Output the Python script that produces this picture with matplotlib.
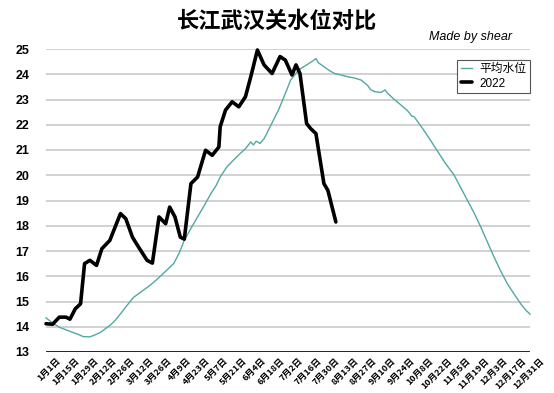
import matplotlib
matplotlib.use("Agg")
import matplotlib.pyplot as plt
import matplotlib.transforms as mtransforms

plt.rcParams['font.family'] = ['Liberation Sans', 'Noto Sans CJK SC', 'DejaVu Sans']

# x tick labels every 14 days
tick_days = list(range(0, 365, 14))
tick_labels = ["1月1日", "1月15日", "1月29日", "2月12日", "2月26日", "3月12日", "3月26日",
               "4月9日", "4月23日", "5月7日", "5月21日", "6月4日", "6月18日", "7月2日",
               "7月16日", "7月30日", "8月13日", "8月27日", "9月10日", "9月24日", "10月8日",
               "10月22日", "11月5日", "11月19日", "12月3日", "12月17日", "12月31日"]

# average water level (day of year, metres)
avg_days = [0, 5, 10, 15, 20, 25, 28, 33, 37, 41, 48, 52, 56, 61, 66, 72, 78, 84, 88, 92,
            96, 100, 104, 109, 114, 119, 124, 128, 131, 136, 141, 146, 150, 154, 156, 158,
            161, 164, 166, 171, 175, 179, 184, 190, 196, 201, 203, 205, 209, 213, 217, 222,
            227, 232, 237, 242, 244, 247, 252, 255, 257, 262, 267, 272, 275, 277, 284, 289,
            294, 300, 307, 312, 317, 322, 327, 332, 337, 342, 347, 352, 357, 361, 364]
avg_vals = [14.35, 14.15, 13.98, 13.88, 13.78, 13.68, 13.61, 13.6, 13.68, 13.78, 14.05, 14.25,
            14.51, 14.85, 15.17, 15.4, 15.63, 15.9, 16.1, 16.3, 16.5, 16.9, 17.42, 17.9, 18.35,
            18.8, 19.27, 19.6, 19.93, 20.33, 20.6, 20.86, 21.05, 21.32, 21.2, 21.35, 21.26,
            21.45, 21.65, 22.18, 22.6, 23.11, 23.77, 24.17, 24.37, 24.54, 24.62, 24.45, 24.3,
            24.15, 24.03, 23.97, 23.9, 23.85, 23.77, 23.55, 23.4, 23.31, 23.28, 23.38, 23.24,
            23.0, 22.78, 22.55, 22.35, 22.31, 21.79, 21.4, 20.99, 20.5, 20.0, 19.5, 19.0, 18.5,
            17.95, 17.35, 16.76, 16.2, 15.7, 15.3, 14.91, 14.65, 14.5]

# 2022 water level
y22_days = [0, 5, 10, 15, 18, 22, 26, 29, 33, 38, 42, 48, 56, 60, 65, 68, 76, 80, 85, 90,
            93, 97, 101, 104, 109, 114, 120, 125, 130, 131, 135, 140, 145, 150, 154, 159,
            164, 170, 176, 180, 185, 188, 191, 196, 199, 203, 209, 212, 218]
y22_vals = [14.12, 14.1, 14.38, 14.38, 14.3, 14.71, 14.91, 16.5, 16.63, 16.43, 17.09, 17.42,
            18.48, 18.28, 17.55, 17.29, 16.63, 16.52, 18.35, 18.08, 18.74, 18.35, 17.55, 17.47,
            19.67, 19.93, 20.99, 20.79, 21.12, 21.92, 22.58, 22.91, 22.71, 23.11, 23.9, 24.96,
            24.37, 24.03, 24.7, 24.56, 23.97, 24.37, 24.03, 22.05, 21.85, 21.65, 19.67, 19.4,
            18.15]

fig = plt.figure(figsize=(5.54, 3.93), dpi=100)
ax = fig.add_axes([46 / 554, 1 - 352 / 393, 484 / 554, 303 / 393])

ax.plot(avg_days, avg_vals, color="#52a8a2", lw=1.0, label="平均水位", clip_on=False, zorder=3)
ax.plot(y22_days, y22_vals, color="black", lw=2.6, label="2022", solid_joinstyle="round",
        solid_capstyle="round", clip_on=False, zorder=4)

ax.set_xlim(0, 364)
ax.set_ylim(13, 25)
ax.set_yticks(range(13, 26))
ax.set_yticklabels([str(v) for v in range(13, 26)], fontsize=9, fontweight="bold")
for v in range(14, 26):
    ax.axhline(v, color="#c9c9c9", lw=1.2, zorder=1)
ax.axhline(13, color="black", lw=1.2, zorder=2)
for s in ax.spines.values():
    s.set_visible(False)
ax.tick_params(axis="both", length=0)
ax.tick_params(axis="y", pad=12)
ax.tick_params(axis="x", pad=0)

ax.set_xticks(tick_days)
ax.set_xticklabels(tick_labels, rotation=45, ha="right", va="top", rotation_mode="anchor",
                   fontsize=6.5, family=["Noto Sans CJK SC"], fontweight="bold")
offset = mtransforms.ScaledTranslation(10 / 100, -4 / 100, fig.dpi_scale_trans)
for lbl in ax.get_xticklabels():
    lbl.set_transform(lbl.get_transform() + offset)

leg = ax.legend(loc="upper right", bbox_to_anchor=(1.0, 0.965), borderaxespad=0,
                handlelength=1.0, handletextpad=0.6, fancybox=False,
                framealpha=1, edgecolor="#555555", borderpad=0.3, labelspacing=0.2,
                prop={"family": ["Liberation Sans", "Noto Sans CJK SC"], "size": 8.5})
leg.get_frame().set_linewidth(0.8)

fig.text(0.5, 0.945, "长江武汉关水位对比", ha="center", va="center", fontsize=16,
         fontweight="bold", family=["Noto Sans CJK SC"])
fig.text(0.925, 0.905, "Made by shear", ha="right", va="center", fontsize=9,
         style="italic")

fig.savefig("out.png", dpi=100)
